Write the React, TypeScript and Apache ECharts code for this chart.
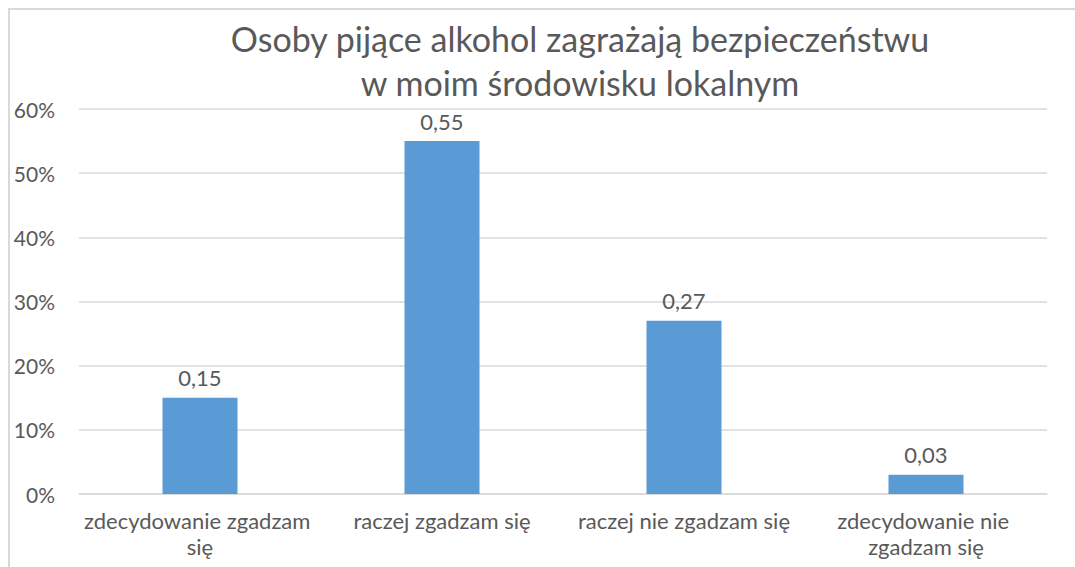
import React, { useEffect, useRef } from "react";
import * as echarts from "echarts";

const titleLines = [
  "Osoby pijące alkohol zagrażają bezpieczeństwu",
  "w moim środowisku lokalnym",
];
const categories = [
  "zdecydowanie zgadzam się",
  "raczej zgadzam się",
  "raczej nie zgadzam się",
  "zdecydowanie nie zgadzam się",
];
const values = [0.15, 0.55, 0.27, 0.03];
const yTicks = { min: 0, max: 0.6, interval: 0.1 };

const FONT = "Lato, 'Open Sans', sans-serif";
const TEXT = "#595959";

export default function App() {
  const ref = useRef<HTMLDivElement>(null);
  useEffect(() => {
    if (!ref.current) return;
    const chart = echarts.init(ref.current, undefined, { renderer: "svg" });
    chart.setOption({
      animation: false,
      backgroundColor: "#ffffff",
      textStyle: { fontFamily: FONT },
      graphic: [
        {
          type: "rect",
          shape: { x: 9, y: 9, width: 1200, height: 700 },
          style: { fill: "none", stroke: "#d9d9d9", lineWidth: 2 },
          silent: true,
          z: -10,
        },
        ...titleLines.map((t, i) => ({
          type: "text",
          x: 580,
          y: 38 + i * 44,
          silent: true,
          style: {
            text: t,
            fill: TEXT,
            font: `normal 34px ${FONT}`,
            align: "center",
            verticalAlign: "middle",
          },
        })),
      ],
      grid: { left: 79, right: 28, top: 109, bottom: 73, containLabel: false },
      xAxis: {
        type: "category",
        data: categories,
        axisLine: { show: true, lineStyle: { color: "#d9d9d9", width: 1.5 } },
        axisTick: { show: false },
        axisLabel: {
          color: TEXT,
          fontFamily: FONT,
          fontSize: 22,
          lineHeight: 26,
          margin: 13,
          width: 242,
          overflow: "break",
          interval: 0,
        },
      },
      yAxis: {
        type: "value",
        min: yTicks.min,
        max: yTicks.max,
        interval: yTicks.interval,
        axisLine: { show: false },
        axisTick: { show: false },
        splitLine: { lineStyle: { color: "#d9d9d9", width: 1.5 } },
        axisLabel: {
          color: TEXT,
          fontFamily: FONT,
          fontSize: 21,
          margin: 24,
          formatter: (v: number) => `${Math.round(v * 100)}%`,
        },
      },
      series: [
        {
          type: "bar",
          data: values,
          barWidth: 75,
          itemStyle: { color: "#5b9bd5" },
          label: {
            show: true,
            position: "top",
            distance: 9,
            color: TEXT,
            fontFamily: FONT,
            fontSize: 22,
            formatter: (p: any) => p.value.toFixed(2).replace(".", ","),
          },
        },
      ],
    });
    return () => chart.dispose();
  }, []);
  return (
    <div
      ref={ref}
      style={{ position: "fixed", left: 0, top: 0, width: 1075, height: 567 }}
    />
  );
}
